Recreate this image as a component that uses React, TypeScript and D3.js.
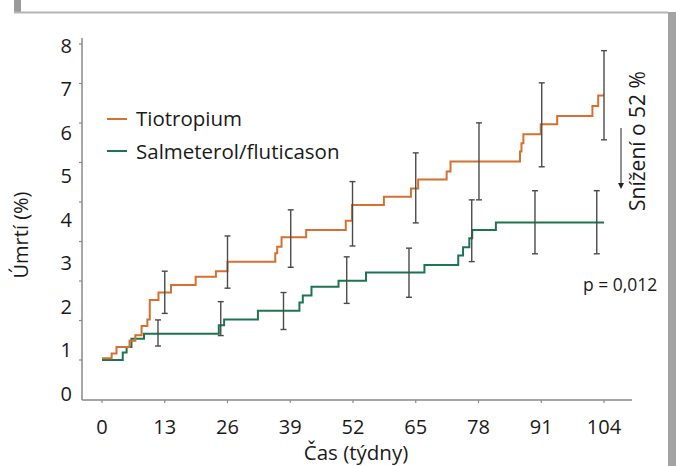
import React from "react";
import * as d3 from "d3";

// Tiotropium step curve: [week, mortality %]
const tioWeeks = [0, 2.0, 3.0, 5.7, 6.9, 8.2, 9.4, 9.9, 11.7, 14.3, 19.4, 23.6, 26.0, 35.9, 36.3, 37.2, 42.3, 50.5, 51.8, 58.4, 64.0, 65.5, 71.4, 72.2, 86.6, 86.9, 87.3, 90.9, 94.3, 101.6, 102.8, 104];
const tioValues = [0.8, 0.91, 1.06, 1.2, 1.33, 1.54, 1.69, 2.14, 2.31, 2.48, 2.67, 2.8, 3.02, 3.21, 3.36, 3.58, 3.75, 3.96, 4.32, 4.51, 4.7, 4.91, 5.09, 5.32, 5.55, 5.74, 5.95, 6.18, 6.37, 6.6, 6.84, 6.84];

// Salmeterol/fluticason step curve
const sfcWeeks = [0, 4.3, 5.1, 6.1, 8.7, 24.2, 25.3, 32.3, 40.9, 41.6, 43.4, 49.0, 54.7, 66.8, 73.8, 74.8, 76.1, 76.7, 81.6, 104];
const sfcValues = [0.76, 0.93, 1.06, 1.25, 1.36, 1.56, 1.69, 1.89, 2.08, 2.24, 2.44, 2.58, 2.77, 2.94, 3.16, 3.35, 3.56, 3.75, 3.92, 3.92];

// Error bars
const tioErrWeeks = [13, 26, 39.1, 51.9, 65, 78.1, 91.1, 104];
const tioErrLow = [1.83, 2.41, 2.89, 3.38, 3.91, 4.44, 5.2, 5.82];
const tioErrHigh = [2.8, 3.61, 4.21, 4.86, 5.52, 6.21, 7.13, 7.87];

const sfcErrWeeks = [11.6, 24.6, 37.6, 50.7, 63.6, 76.6, 89.7, 102.5];
const sfcErrLow = [1.08, 1.32, 1.46, 2.06, 2.2, 3.02, 3.2, 3.2];
const sfcErrHigh = [1.68, 2.1, 2.31, 3.13, 3.33, 4.44, 4.65, 4.65];

const xTicks = [0, 13, 26, 39, 52, 65, 78, 91, 104];
const yLabels = [0, 1, 2, 3, 4, 5, 6, 7, 8];
const yTickMarks = [1, 2, 3, 4, 5, 6, 7, 8, 9];

const seriesNames = ["Tiotropium", "Salmeterol/fluticason"];

const ORANGE = "#d6702f";
const GREEN = "#1c7550";
const ERR = "#4a4a4a";
const AXIS = "#8a8a8a";
const FONT = "'Open Sans', 'Noto Sans', sans-serif";
const TXT = "#1a1a1a";

export default function App() {
  const x = d3.scaleLinear().domain([0, 104]).range([102, 604]);
  const y = d3.scaleLinear().domain([0, 8]).range([393, 45]);
  const yTick = d3.scaleLinear().domain([0, 9]).range([399.5, 44]);

  const line = d3
    .line<[number, number]>()
    .x((d) => x(d[0]))
    .y((d) => y(d[1]))
    .curve(d3.curveStepAfter);

  const tioPts = tioWeeks.map((w, i) => [w, tioValues[i]] as [number, number]);
  const sfcPts = sfcWeeks.map((w, i) => [w, sfcValues[i]] as [number, number]);

  const errBar = (w: number, lo: number, hi: number, key: string) => {
    const cx = x(w);
    const y1 = y(hi);
    const y2 = y(lo);
    return (
      <g key={key} stroke={ERR} strokeWidth={1.4}>
        <line x1={cx} x2={cx} y1={y1} y2={y2} />
        <line x1={cx - 3} x2={cx + 3} y1={y1} y2={y1} />
        <line x1={cx - 3} x2={cx + 3} y1={y2} y2={y2} />
      </g>
    );
  };

  return (
    <div style={{ position: "fixed", left: 0, top: 0, width: 676, height: 466, background: "#fff" }}>
      <svg width={676} height={466} style={{ display: "block" }}>
        {/* frame */}
        <rect x={14} y={0} width={7} height={13} fill="#9a9a9a" />
        <line x1={14} x2={668} y1={12.5} y2={12.5} stroke="#b5b5b5" strokeWidth={2} />
        <rect x={668} y={12} width={8} height={454} fill="#a3a3a3" />

        {/* y axis */}
        <line x1={82} x2={82} y1={38} y2={400} stroke={AXIS} strokeWidth={1.5} />
        {yTickMarks.map((t) => (
          <line key={"yt" + t} x1={79} x2={82} y1={yTick(t)} y2={yTick(t)} stroke={AXIS} strokeWidth={1.2} />
        ))}
        {yLabels.map((v) => (
          <text key={"yl" + v} x={72} y={y(v) + 7.5} textAnchor="end" fontFamily={FONT} fontSize={20} fill={TXT}>
            {v}
          </text>
        ))}

        {/* x axis */}
        <line x1={82} x2={632} y1={400} y2={400} stroke={AXIS} strokeWidth={1.5} />
        {xTicks.map((t) => (
          <g key={"xt" + t}>
            <line x1={x(t)} x2={x(t)} y1={400} y2={403} stroke={AXIS} strokeWidth={1.2} />
            <text x={x(t)} y={434} textAnchor="middle" fontFamily={FONT} fontSize={20} fill={TXT}>
              {t}
            </text>
          </g>
        ))}

        {/* axis titles */}
        <text x={356} y={460} textAnchor="middle" fontFamily={FONT} fontSize={20.5} fill={TXT}>
          Čas (týdny)
        </text>
        <text
          transform="translate(28,235) rotate(-90)"
          textAnchor="middle"
          fontFamily={FONT}
          fontSize={20}
          fill={TXT}
        >
          Úmrtí (%)
        </text>

        {/* curves */}
        <path d={line(sfcPts) || ""} fill="none" stroke={GREEN} strokeWidth={2} />
        <path d={line(tioPts) || ""} fill="none" stroke={ORANGE} strokeWidth={2} />

        {/* error bars */}
        {tioErrWeeks.map((w, i) => errBar(w, tioErrLow[i], tioErrHigh[i], "te" + i))}
        {sfcErrWeeks.map((w, i) => errBar(w, sfcErrLow[i], sfcErrHigh[i], "se" + i))}

        {/* legend */}
        <line x1={107} x2={127} y1={119} y2={119} stroke={ORANGE} strokeWidth={2} />
        <text x={136} y={125.5} fontFamily={FONT} fontSize={20.5} fill={TXT}>
          {seriesNames[0]}
        </text>
        <line x1={107} x2={127} y1={151} y2={151} stroke={GREEN} strokeWidth={2} />
        <text x={136} y={158.5} fontFamily={FONT} fontSize={20.5} fill={TXT}>
          {seriesNames[1]}
        </text>

        {/* annotations */}
        <text
          transform="translate(645,141) rotate(-90)"
          textAnchor="middle"
          fontFamily={FONT}
          fontSize={21}
          fill={TXT}
        >
          Snížení o 52 %
        </text>
        <line x1={621} x2={621} y1={128} y2={184} stroke="#222" strokeWidth={1} />
        <path d="M618,183 L624,183 L621,189 Z" fill="#222" />
        <text x={583} y={291} fontFamily={FONT} fontSize={17.5} fill={TXT}>
          p = 0,012
        </text>
      </svg>
    </div>
  );
}
